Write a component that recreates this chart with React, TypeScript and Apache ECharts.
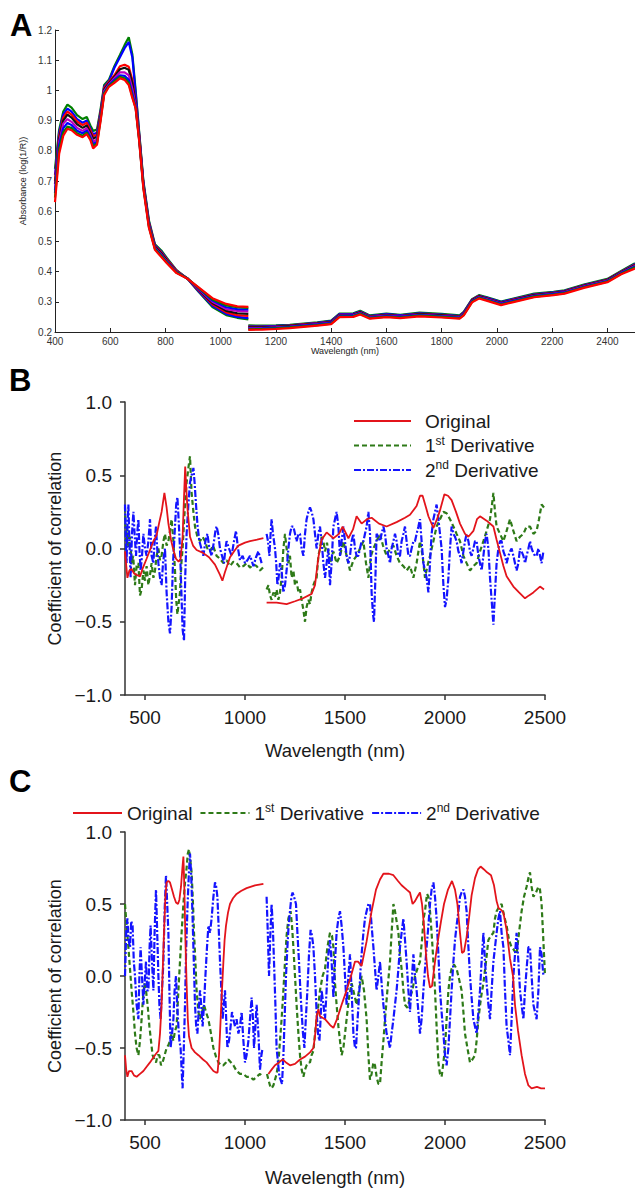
import React, { useEffect, useRef } from 'react';
import * as echarts from 'echarts';

// ---------- Panel A : absorbance spectra ----------
const visNm = [400,415,430,445,460,480,500,515,528,538,552,565,578,595,615,635,652,667,680,692,705,720,740,762,785,805,840,880,920,970,1020,1060,1100];
const nirNm = [1100,1150,1200,1250,1300,1350,1400,1430,1480,1505,1540,1600,1650,1720,1800,1865,1880,1910,1935,1965,2015,2060,2135,2205,2245,2315,2400,2450,2500];

const sample1Vis = [.74,.87,.93,.953,.943,.918,.905,.912,.884,.866,.87,.938,1.018,1.035,1.08,1.117,1.15,1.176,1.12,1.0,.86,.70,.57,.49,.47,.445,.405,.376,.333,.283,.256,.247,.242];
const sample2Vis = [.72,.86,.92,.94,.93,.905,.893,.9,.874,.855,.86,.93,1.012,1.03,1.075,1.11,1.14,1.16,1.11,.99,.855,.695,.565,.487,.466,.442,.403,.376,.335,.287,.26,.25,.246];
const sample3Vis = [.70,.85,.91,.93,.92,.897,.885,.893,.868,.848,.853,.925,1.008,1.028,1.05,1.08,1.085,1.078,1.035,.96,.85,.69,.562,.485,.463,.44,.402,.377,.338,.292,.265,.256,.253];
const sample4Vis = [.69,.84,.9,.92,.91,.888,.876,.884,.86,.84,.847,.92,1.003,1.024,1.045,1.07,1.075,1.068,1.025,.955,.845,.688,.558,.482,.46,.437,.40,.377,.34,.296,.27,.262,.26];
const sample5Vis = [.67,.83,.89,.905,.896,.876,.866,.875,.852,.83,.838,.913,.998,1.02,1.04,1.06,1.06,1.05,1.005,.95,.84,.685,.555,.479,.456,.434,.399,.377,.342,.3,.276,.27,.268];
const sample6Vis = [.66,.82,.875,.892,.885,.866,.858,.867,.845,.822,.83,.908,.993,1.017,1.035,1.05,1.048,1.035,.99,.945,.837,.682,.552,.477,.454,.432,.398,.377,.344,.304,.282,.276,.275];
const sample7Vis = [.645,.805,.862,.88,.875,.858,.85,.86,.84,.815,.825,.903,.99,1.014,1.03,1.045,1.04,1.025,.98,.942,.834,.679,.549,.475,.452,.43,.397,.377,.346,.308,.288,.282,.28];
const sample8Vis = [.63,.79,.85,.873,.868,.853,.845,.855,.836,.808,.82,.898,.985,1.012,1.025,1.04,1.035,1.018,.975,.94,.83,.675,.545,.472,.448,.428,.395,.376,.348,.312,.293,.285,.283];

const sample1Nir = [.222,.221,.222,.224,.228,.232,.238,.261,.262,.270,.255,.261,.257,.264,.260,.255,.267,.309,.322,.315,.301,.311,.327,.333,.338,.357,.376,.402,.428];
const sample2Nir = [.219,.219,.220,.222,.226,.230,.236,.259,.260,.268,.253,.259,.255,.262,.258,.253,.265,.307,.320,.313,.299,.309,.325,.331,.336,.355,.374,.400,.425];
const sample3Nir = [.217,.217,.218,.221,.225,.229,.234,.257,.258,.266,.251,.257,.253,.260,.256,.251,.263,.306,.319,.311,.297,.307,.323,.330,.335,.354,.373,.399,.423];
const sample4Nir = [.215,.215,.217,.220,.224,.228,.233,.256,.257,.265,.250,.256,.252,.259,.255,.250,.262,.305,.318,.310,.296,.306,.322,.329,.334,.353,.372,.398,.421];
const sample5Nir = [.213,.213,.215,.218,.222,.226,.231,.254,.255,.263,.249,.254,.251,.257,.253,.249,.260,.303,.316,.308,.294,.304,.320,.327,.332,.351,.370,.396,.419];
const sample6Nir = [.211,.212,.214,.217,.221,.225,.230,.253,.254,.262,.248,.253,.250,.256,.252,.248,.259,.302,.315,.307,.293,.303,.319,.326,.331,.350,.369,.395,.417];
const sample7Nir = [.209,.210,.212,.215,.219,.223,.228,.251,.252,.260,.246,.251,.248,.254,.250,.246,.257,.300,.313,.305,.291,.301,.317,.324,.329,.348,.367,.393,.414];
const sample8Nir = [.207,.208,.210,.213,.217,.221,.226,.249,.250,.258,.244,.249,.246,.252,.248,.244,.255,.298,.311,.303,.289,.299,.315,.322,.327,.346,.365,.391,.410];

const sampleColors = ['#008000','#0000ff','#ff0000','#111111','#bf00bf','#0000ff','#008000','#ff0000'];

const aXTicks = { min: 400, max: 2500, interval: 200 };
const aYTicks = { min: 0.2, max: 1.2, interval: 0.1 };

// ---------- Panel B : correlation (first variable) ----------
const bOriginal: (number | null)[][] = [[400,-0.02],[405,-0.1],[412,-0.2],[422,-0.15],[433,-0.14],[445,-0.17],[458,-0.18],[475,-0.19],[490,-0.13],[508,-0.07],[525,-0.01],[542,0.05],[558,0.09],[570,0.17],[583,0.25],[597,0.38],[608,0.28],[617,0.17],[630,0.06],[642,-0.01],[655,-0.07],[668,-0.09],[678,-0.07],[688,0.08],[695,0.35],[701,0.56],[706,0.42],[712,0.28],[725,0.08],[740,0.02],[758,-0.01],[790,-0.03],[820,-0.06],[850,-0.11],[875,-0.18],[887,-0.22],[900,-0.16],[925,-0.06],[950,-0.01],[967,0.02],[1000,0.04],[1025,0.05],[1060,0.06],[1092,0.07],[1100,null],
[1108,-0.37],[1158,-0.37],[1208,-0.38],[1250,-0.36],[1290,-0.34],[1333,-0.31],[1350,-0.25],[1367,-0.06],[1383,0.06],[1408,0.11],[1442,0.07],[1470,0.1],[1488,0.15],[1517,0.07],[1540,0.13],[1558,0.22],[1583,0.17],[1610,0.2],[1633,0.21],[1670,0.17],[1708,0.15],[1758,0.18],[1800,0.21],[1825,0.23],[1858,0.29],[1875,0.36],[1888,0.36],[1905,0.28],[1917,0.22],[1942,0.14],[1960,0.2],[1975,0.26],[1997,0.37],[2015,0.36],[2033,0.33],[2055,0.25],[2075,0.17],[2100,0.1],[2117,0.08],[2142,0.12],[2160,0.2],[2175,0.22],[2208,0.19],[2242,0.15],[2258,0.06],[2275,-0.03],[2292,-0.12],[2308,-0.19],[2342,-0.26],[2370,-0.3],[2400,-0.34],[2420,-0.32],[2442,-0.3],[2475,-0.26],[2495,-0.28]];

const bFirstDeriv: (number | null)[][] = [[400,0.28],[405,0.05],[410,0.15],[417,0.0],[425,0.08],[433,-0.1],[441,-0.05],[450,-0.25],[458,-0.12],[467,-0.1],[475,-0.32],[483,-0.28],[492,-0.15],[500,-0.22],[508,-0.12],[517,-0.25],[525,-0.18],[533,-0.1],[542,-0.2],[550,-0.15],[558,-0.05],[567,0.0],[575,-0.08],[583,-0.05],[592,0.05],[600,0.1],[608,0.02],[617,0.05],[625,0.12],[633,0.2],[642,0.05],[650,-0.15],[656,-0.35],[662,-0.45],[668,-0.38],[675,-0.3],[682,-0.1],[688,0.0],[694,0.15],[700,0.3],[708,0.45],[717,0.55],[725,0.63],[733,0.38],[742,0.25],[750,0.15],[762,0.08],[775,0.05],[788,0.08],[800,0.05],[812,0.0],[825,-0.02],[840,0.02],[858,-0.05],[875,-0.07],[892,-0.1],[908,-0.08],[925,-0.12],[942,-0.09],[958,-0.1],[975,-0.13],[992,-0.12],[1008,-0.1],[1025,-0.13],[1042,-0.11],[1058,-0.12],[1075,-0.15],[1090,-0.13],[1100,null],
[1108,-0.28],[1117,-0.25],[1125,-0.32],[1133,-0.35],[1142,-0.3],[1150,-0.33],[1158,-0.28],[1167,-0.35],[1175,-0.3],[1183,-0.2],[1192,0.0],[1200,0.1],[1208,0.0],[1217,-0.1],[1225,-0.05],[1233,-0.2],[1242,-0.15],[1250,-0.25],[1258,-0.22],[1267,-0.3],[1275,-0.28],[1283,-0.35],[1292,-0.42],[1300,-0.5],[1308,-0.4],[1317,-0.35],[1325,-0.38],[1333,-0.3],[1342,-0.25],[1350,-0.22],[1358,-0.2],[1367,-0.05],[1375,0.0],[1383,0.08],[1392,0.05],[1400,-0.02],[1410,0.04],[1425,-0.1],[1442,-0.02],[1458,-0.1],[1475,-0.05],[1492,0.05],[1508,-0.05],[1525,-0.15],[1542,-0.08],[1558,-0.05],[1575,0.0],[1592,0.05],[1605,-0.1],[1617,-0.2],[1630,-0.05],[1642,0.0],[1658,0.05],[1675,0.1],[1690,0.02],[1708,-0.05],[1725,0.0],[1742,0.02],[1758,-0.05],[1775,-0.1],[1792,-0.12],[1808,-0.15],[1825,-0.12],[1842,-0.2],[1858,-0.1],[1875,0.05],[1888,-0.05],[1900,-0.2],[1912,-0.12],[1925,-0.05],[1942,0.05],[1958,0.15],[1975,0.2],[1992,0.25],[2008,0.24],[2025,0.2],[2042,0.15],[2058,0.1],[2075,0.05],[2092,-0.05],[2108,-0.1],[2125,-0.15],[2142,-0.12],[2158,-0.1],[2175,-0.02],[2192,0.05],[2208,0.12],[2225,0.2],[2235,0.3],[2242,0.38],[2250,0.25],[2258,0.15],[2275,0.1],[2292,0.05],[2308,0.12],[2325,0.2],[2342,0.12],[2358,0.05],[2375,0.08],[2392,0.1],[2408,0.15],[2425,0.15],[2442,0.1],[2458,0.12],[2470,0.2],[2483,0.3],[2495,0.28]];

const bSecondDeriv: (number | null)[][] = [[400,0.3],[404,0.05],[408,-0.1],[412,0.15],[417,0.3],[422,0.05],[428,-0.2],[435,0.1],[442,0.25],[448,0.1],[455,-0.05],[461,0.1],[467,0.2],[472,0.0],[478,-0.15],[485,-0.05],[492,0.1],[500,0.0],[508,-0.05],[517,0.05],[525,0.2],[533,-0.05],[542,-0.1],[548,0.05],[555,0.15],[561,0.0],[567,-0.1],[575,-0.2],[583,-0.25],[590,-0.1],[600,0.0],[608,-0.3],[617,-0.5],[625,-0.58],[633,-0.4],[640,-0.1],[650,0.15],[656,0.3],[662,0.35],[668,0.2],[675,0.0],[682,-0.3],[688,-0.55],[695,-0.63],[701,-0.2],[708,0.1],[717,0.3],[725,0.45],[733,0.5],[742,0.55],[748,0.45],[755,0.3],[763,0.15],[772,0.05],[782,0.0],[792,-0.05],[802,0.05],[812,0.1],[822,0.0],[833,-0.05],[845,0.05],[852,0.12],[858,0.15],[866,0.1],[875,0.0],[885,-0.05],[895,-0.1],[902,0.0],[908,0.05],[920,0.0],[933,-0.05],[945,0.05],[955,0.12],[965,0.0],[975,-0.08],[988,-0.05],[1000,-0.1],[1012,-0.08],[1025,-0.05],[1033,-0.08],[1042,-0.12],[1055,-0.06],[1067,-0.02],[1075,-0.06],[1083,-0.1],[1100,null],
[1108,0.1],[1115,0.05],[1122,-0.05],[1128,0.1],[1133,0.2],[1140,0.1],[1150,0.0],[1156,-0.1],[1162,-0.25],[1168,-0.2],[1175,-0.1],[1183,-0.15],[1192,-0.3],[1200,-0.25],[1208,-0.15],[1217,0.0],[1225,0.1],[1233,0.15],[1242,0.15],[1250,0.1],[1258,0.05],[1267,0.1],[1275,0.1],[1283,0.0],[1292,-0.05],[1300,0.1],[1308,0.2],[1317,0.25],[1325,0.28],[1333,0.25],[1342,0.2],[1350,0.1],[1358,0.0],[1367,0.1],[1375,0.15],[1383,0.05],[1392,-0.1],[1400,-0.2],[1408,-0.1],[1417,0.0],[1425,-0.25],[1433,-0.1],[1442,0.15],[1450,0.2],[1458,0.25],[1467,0.15],[1475,-0.05],[1483,0.05],[1492,0.15],[1500,0.05],[1508,-0.05],[1517,-0.1],[1525,-0.05],[1533,0.05],[1542,0.1],[1550,0.0],[1558,-0.05],[1567,-0.05],[1575,0.0],[1583,0.05],[1592,0.05],[1600,0.1],[1608,0.15],[1617,0.25],[1625,0.1],[1633,-0.3],[1640,-0.45],[1645,-0.5],[1652,-0.2],[1658,0.1],[1667,0.08],[1675,0.05],[1683,0.1],[1692,0.15],[1700,0.1],[1708,0.0],[1717,-0.05],[1725,-0.1],[1733,0.0],[1742,0.05],[1750,0.1],[1758,0.05],[1767,-0.05],[1775,-0.05],[1783,0.05],[1792,0.1],[1800,0.15],[1808,0.05],[1817,-0.05],[1825,-0.05],[1833,0.0],[1842,0.05],[1850,0.05],[1858,0.1],[1867,0.15],[1875,0.2],[1883,0.05],[1892,-0.1],[1900,-0.15],[1908,-0.2],[1917,-0.3],[1925,-0.1],[1933,0.1],[1942,0.2],[1950,0.25],[1958,0.3],[1967,0.2],[1975,0.1],[1983,0.0],[1992,-0.25],[2000,-0.4],[2008,-0.35],[2017,-0.2],[2025,0.0],[2033,0.15],[2042,0.1],[2050,0.08],[2058,0.05],[2067,-0.02],[2075,-0.05],[2083,-0.1],[2092,-0.02],[2100,0.05],[2108,0.1],[2117,0.05],[2125,-0.02],[2133,-0.05],[2142,0.0],[2150,0.05],[2158,0.05],[2167,-0.05],[2175,-0.1],[2183,-0.15],[2192,-0.05],[2200,0.05],[2208,0.1],[2217,0.0],[2225,-0.2],[2233,-0.35],[2242,-0.52],[2250,-0.3],[2258,-0.1],[2267,0.0],[2275,0.05],[2283,0.05],[2292,-0.02],[2300,-0.05],[2308,-0.1],[2317,-0.05],[2325,-0.02],[2333,0.0],[2342,-0.05],[2350,-0.1],[2358,-0.15],[2367,-0.1],[2375,0.0],[2383,-0.02],[2392,-0.05],[2400,-0.1],[2408,-0.05],[2417,0.0],[2425,0.05],[2433,0.0],[2442,-0.03],[2450,-0.05],[2458,-0.05],[2467,0.0],[2475,-0.05],[2483,-0.1],[2492,-0.02]];

// ---------- Panel C : correlation (second variable) ----------
const cOriginal: (number | null)[][] = [[400,-0.55],[406,-0.65],[412,-0.7],[420,-0.66],[433,-0.66],[445,-0.69],[458,-0.7],[475,-0.68],[492,-0.66],[508,-0.63],[525,-0.6],[540,-0.57],[555,-0.54],[567,-0.52],[575,-0.4],[583,-0.2],[590,0.1],[595,0.3],[602,0.55],[608,0.65],[617,0.66],[625,0.65],[635,0.6],[645,0.55],[655,0.51],[665,0.5],[672,0.53],[680,0.62],[687,0.75],[692,0.83],[697,0.6],[702,0.25],[708,-0.05],[714,-0.3],[720,-0.42],[733,-0.5],[750,-0.53],[767,-0.55],[790,-0.58],[808,-0.6],[825,-0.63],[842,-0.66],[855,-0.67],[863,-0.67],[870,-0.55],[875,-0.4],[883,-0.15],[892,0.1],[898,0.25],[905,0.35],[915,0.44],[925,0.5],[940,0.54],[958,0.57],[980,0.59],[1008,0.61],[1050,0.63],[1092,0.64],[1100,null],
[1117,-0.68],[1133,-0.65],[1150,-0.62],[1170,-0.6],[1188,-0.58],[1205,-0.6],[1225,-0.62],[1250,-0.61],[1275,-0.58],[1300,-0.56],[1325,-0.53],[1342,-0.5],[1350,-0.42],[1358,-0.28],[1367,-0.23],[1375,-0.28],[1400,-0.3],[1425,-0.34],[1442,-0.36],[1460,-0.3],[1483,-0.2],[1508,-0.1],[1530,0.0],[1550,0.1],[1565,0.1],[1583,0.07],[1608,0.24],[1633,0.45],[1655,0.6],[1675,0.67],[1692,0.71],[1720,0.71],[1742,0.7],[1765,0.66],[1783,0.63],[1808,0.6],[1825,0.58],[1838,0.5],[1850,0.52],[1862,0.55],[1875,0.58],[1885,0.5],[1895,0.35],[1905,0.15],[1915,0.0],[1925,-0.08],[1935,-0.07],[1950,0.1],[1965,0.25],[1980,0.38],[1995,0.5],[2015,0.6],[2035,0.66],[2050,0.6],[2062,0.5],[2075,0.3],[2085,0.16],[2095,0.17],[2108,0.27],[2120,0.4],[2133,0.56],[2150,0.68],[2165,0.74],[2178,0.76],[2195,0.74],[2210,0.72],[2230,0.7],[2245,0.63],[2258,0.52],[2268,0.47],[2280,0.46],[2292,0.44],[2308,0.32],[2325,0.12],[2340,0.0],[2350,-0.2],[2365,-0.38],[2383,-0.55],[2400,-0.68],[2417,-0.76],[2433,-0.78],[2460,-0.77],[2480,-0.78],[2500,-0.78]];

const cFirstDeriv: (number | null)[][] = [[400,0.5],[408,0.35],[417,0.2],[425,0.05],[433,-0.1],[442,-0.25],[450,-0.4],[458,-0.5],[467,-0.55],[475,-0.45],[483,-0.3],[490,-0.15],[497,-0.05],[505,-0.1],[513,-0.2],[522,-0.35],[530,-0.45],[538,-0.55],[547,-0.58],[555,-0.6],[563,-0.55],[572,-0.55],[580,-0.62],[588,-0.6],[598,-0.55],[608,-0.5],[617,-0.48],[625,-0.45],[633,-0.4],[642,-0.45],[650,-0.38],[658,-0.35],[667,-0.1],[675,0.1],[683,0.3],[692,0.5],[700,0.65],[708,0.75],[714,0.85],[720,0.88],[727,0.8],[733,0.72],[740,0.5],[745,0.3],[752,0.1],[758,-0.1],[767,-0.25],[775,-0.3],[785,-0.25],[795,-0.2],[805,-0.25],[817,-0.3],[830,-0.4],[842,-0.5],[855,-0.56],[867,-0.6],[880,-0.62],[892,-0.62],[905,-0.6],[917,-0.58],[930,-0.6],[942,-0.62],[958,-0.66],[975,-0.68],[992,-0.68],[1008,-0.7],[1025,-0.7],[1042,-0.72],[1058,-0.7],[1075,-0.68],[1090,-0.7],[1100,null],
[1110,-0.68],[1117,-0.72],[1125,-0.76],[1133,-0.78],[1142,-0.76],[1150,-0.72],[1158,-0.68],[1167,-0.6],[1175,-0.45],[1183,-0.3],[1192,-0.1],[1200,0.1],[1208,0.28],[1217,0.4],[1228,0.45],[1235,0.35],[1242,0.2],[1250,0.0],[1258,-0.2],[1267,-0.4],[1275,-0.55],[1283,-0.65],[1292,-0.7],[1300,-0.65],[1308,-0.62],[1317,-0.6],[1325,-0.6],[1333,-0.55],[1342,-0.52],[1350,-0.4],[1358,-0.3],[1367,-0.2],[1375,-0.1],[1388,0.0],[1400,0.05],[1412,0.2],[1425,0.3],[1435,0.28],[1442,0.2],[1450,-0.05],[1458,-0.2],[1467,-0.35],[1475,-0.45],[1483,-0.55],[1492,-0.5],[1500,-0.4],[1508,-0.3],[1520,-0.15],[1533,-0.05],[1545,-0.12],[1558,-0.2],[1570,-0.1],[1583,0.0],[1595,-0.1],[1608,-0.3],[1617,-0.55],[1625,-0.72],[1633,-0.68],[1642,-0.6],[1650,-0.62],[1658,-0.7],[1667,-0.75],[1675,-0.75],[1683,-0.6],[1692,-0.45],[1700,-0.3],[1712,-0.1],[1725,0.1],[1733,0.3],[1742,0.5],[1750,0.45],[1758,0.38],[1767,0.3],[1775,0.15],[1783,0.05],[1792,-0.1],[1800,-0.2],[1812,-0.22],[1825,-0.15],[1837,-0.1],[1850,0.0],[1862,0.05],[1875,0.1],[1885,0.25],[1893,0.4],[1900,0.45],[1910,0.57],[1917,0.55],[1925,0.45],[1933,0.3],[1942,0.1],[1950,-0.1],[1958,-0.35],[1967,-0.6],[1975,-0.68],[1983,-0.7],[1992,-0.6],[2000,-0.5],[2008,-0.3],[2017,-0.1],[2025,0.0],[2033,0.05],[2045,0.08],[2058,0.05],[2070,-0.02],[2083,-0.1],[2092,-0.25],[2100,-0.4],[2112,-0.5],[2125,-0.6],[2137,-0.58],[2150,-0.55],[2158,-0.45],[2167,-0.3],[2180,-0.15],[2192,-0.05],[2205,0.1],[2217,0.25],[2230,0.28],[2242,0.3],[2250,0.4],[2258,0.45],[2270,0.48],[2283,0.5],[2295,0.42],[2308,0.35],[2320,0.25],[2333,0.2],[2345,0.18],[2358,0.15],[2370,0.3],[2383,0.45],[2395,0.55],[2408,0.62],[2417,0.68],[2425,0.72],[2433,0.62],[2442,0.55],[2455,0.58],[2467,0.62],[2475,0.6],[2483,0.5],[2490,0.3],[2500,0.0]];

const cSecondDeriv: (number | null)[][] = [[400,0.0],[406,0.3],[412,0.4],[418,0.25],[425,0.2],[431,0.38],[438,0.35],[444,0.1],[450,0.0],[458,-0.2],[467,-0.3],[472,0.0],[478,0.2],[485,0.0],[492,-0.2],[498,-0.05],[505,0.1],[511,-0.1],[517,-0.1],[523,0.2],[528,0.35],[535,0.1],[542,-0.1],[548,0.3],[555,0.6],[561,0.3],[567,0.0],[572,-0.2],[578,-0.3],[585,-0.1],[592,0.1],[598,0.45],[605,0.7],[611,0.5],[617,0.3],[622,-0.1],[628,-0.5],[635,-0.4],[642,-0.3],[648,-0.1],[655,0.0],[661,-0.2],[667,-0.35],[672,-0.45],[678,-0.5],[683,-0.65],[688,-0.78],[694,-0.5],[700,-0.2],[706,0.2],[713,0.5],[719,0.7],[725,0.85],[731,0.7],[738,0.4],[744,0.1],[750,-0.2],[756,-0.35],[762,-0.4],[768,-0.25],[775,-0.1],[781,-0.2],[788,-0.35],[795,-0.2],[802,0.0],[810,0.2],[817,0.35],[825,0.3],[833,0.4],[842,0.55],[850,0.65],[856,0.62],[862,0.55],[868,0.35],[875,0.1],[882,-0.1],[888,-0.3],[894,-0.2],[900,-0.1],[906,-0.3],[912,-0.5],[920,-0.45],[928,-0.35],[935,-0.25],[942,-0.3],[950,-0.35],[958,-0.3],[967,-0.4],[975,-0.35],[983,-0.25],[992,-0.45],[1000,-0.6],[1008,-0.55],[1017,-0.45],[1025,-0.3],[1033,-0.15],[1040,-0.3],[1045,-0.5],[1052,-0.35],[1058,-0.2],[1067,-0.4],[1075,-0.65],[1082,-0.55],[1088,-0.5],[1100,null],
[1108,0.55],[1114,0.3],[1120,0.0],[1127,0.3],[1133,0.5],[1139,0.35],[1145,0.1],[1152,-0.2],[1158,-0.5],[1165,-0.6],[1172,-0.7],[1178,-0.72],[1185,-0.75],[1192,-0.55],[1198,-0.3],[1205,0.0],[1212,0.2],[1218,0.35],[1225,0.45],[1232,0.55],[1238,0.58],[1245,0.55],[1255,0.5],[1262,0.3],[1270,0.1],[1277,-0.1],[1283,-0.25],[1290,-0.4],[1297,-0.5],[1304,-0.3],[1312,-0.1],[1320,0.15],[1328,0.32],[1335,0.28],[1342,0.2],[1350,0.0],[1358,-0.25],[1365,-0.4],[1372,-0.45],[1378,-0.3],[1383,-0.1],[1392,-0.2],[1400,-0.3],[1408,-0.1],[1417,0.15],[1425,0.25],[1433,0.1],[1442,-0.15],[1450,0.1],[1458,0.3],[1467,0.4],[1475,0.45],[1483,0.35],[1492,0.2],[1500,0.0],[1508,-0.2],[1517,0.0],[1525,0.15],[1533,-0.1],[1542,-0.4],[1550,-0.5],[1555,-0.5],[1563,-0.3],[1572,-0.1],[1580,0.1],[1592,0.3],[1600,0.4],[1608,0.45],[1617,0.5],[1625,0.5],[1633,0.35],[1642,0.2],[1650,0.05],[1658,-0.1],[1667,0.0],[1675,0.1],[1683,-0.05],[1692,-0.2],[1700,-0.3],[1708,-0.4],[1717,-0.45],[1725,-0.5],[1733,-0.4],[1742,-0.3],[1750,-0.2],[1758,-0.1],[1767,0.05],[1775,0.2],[1783,0.3],[1792,0.4],[1800,0.25],[1808,0.1],[1817,-0.1],[1825,-0.25],[1833,-0.05],[1842,0.15],[1850,0.0],[1858,-0.1],[1867,-0.25],[1875,-0.4],[1883,-0.3],[1892,-0.1],[1900,0.05],[1908,0.2],[1917,0.35],[1925,0.5],[1933,0.6],[1942,0.65],[1950,0.55],[1958,0.4],[1967,0.15],[1975,-0.1],[1983,-0.25],[1992,-0.4],[2000,-0.55],[2008,-0.62],[2017,-0.5],[2025,-0.3],[2033,-0.1],[2042,0.1],[2050,0.25],[2058,0.35],[2067,0.45],[2075,0.55],[2083,0.58],[2092,0.6],[2100,0.55],[2108,0.45],[2117,0.2],[2125,0.0],[2133,-0.15],[2142,-0.3],[2150,-0.35],[2158,-0.4],[2167,-0.25],[2175,-0.1],[2183,0.1],[2192,0.3],[2200,0.1],[2208,-0.05],[2217,-0.2],[2225,-0.3],[2233,-0.1],[2242,0.1],[2250,0.2],[2258,0.3],[2267,0.4],[2275,0.45],[2283,0.3],[2292,0.2],[2300,-0.1],[2308,-0.35],[2317,-0.45],[2325,-0.55],[2333,-0.3],[2342,0.0],[2350,0.15],[2358,0.3],[2367,0.1],[2375,-0.1],[2383,-0.2],[2392,-0.3],[2400,-0.1],[2408,0.05],[2417,0.2],[2425,0.2],[2433,0.0],[2442,-0.2],[2450,-0.25],[2458,-0.3],[2467,-0.1],[2475,0.2],[2483,0.15],[2492,0.0]];

const corrXTickValues = [500, 1000, 1500, 2000, 2500];
const corrYTicks = { min: -1, max: 1, interval: 0.5 };
const legendNames = ['Original', '1st Derivative', '2nd Derivative'];

const RED = '#e3141b';
const GREEN = '#2e7a18';
const BLUE = '#1414ff';
const FONT = 'Arial, "Liberation Sans", Helvetica, sans-serif';

function spectrum(vis: number[], nir: number[]) {
  const a: (number | null)[][] = visNm.map((x, i) => [x, vis[i]]);
  a.push([1100, null]);
  nirNm.forEach((x, i) => a.push([x, nir[i]]));
  return a;
}

const legendFormatter = (name: string) => {
  if (name === '1st Derivative') return '1{sup|st} Derivative';
  if (name === '2nd Derivative') return '2{sup|nd} Derivative';
  return name;
};
const legendText = {
  fontFamily: FONT,
  fontSize: 19,
  color: '#1a1a1a',
  lineHeight: 22,
  rich: { sup: { fontFamily: FONT, fontSize: 12, color: '#1a1a1a', verticalAlign: 'top' as const } },
};
const plainNum = (v: number) => String(v);

function corrXAxis(gridIndex: number, nameGap: number) {
  return {
    type: 'value' as const, gridIndex, min: 400, max: 2500,
    name: 'Wavelength (nm)', nameLocation: 'middle' as const, nameGap,
    nameTextStyle: { fontFamily: FONT, fontSize: 18.5, color: '#1a1a1a' },
    axisLine: { onZero: false, lineStyle: { color: '#333', width: 1.5 } },
    axisTick: { show: true, length: 5, inside: false, customValues: corrXTickValues, lineStyle: { color: '#333', width: 1.5 } },
    axisLabel: { customValues: corrXTickValues, formatter: plainNum, fontFamily: FONT, fontSize: 19, color: '#1a1a1a', margin: 13 },
    splitLine: { show: false },
  };
}
function corrYAxis(gridIndex: number) {
  return {
    type: 'value' as const, gridIndex, ...corrYTicks,
    name: 'Coefficient of correlation', nameLocation: 'middle' as const, nameGap: 55,
    nameTextStyle: { fontFamily: FONT, fontSize: 18, color: '#1a1a1a' },
    axisLine: { show: true, onZero: false, lineStyle: { color: '#333', width: 1.5 } },
    axisTick: { show: true, length: 5, inside: false, lineStyle: { color: '#333', width: 1.5 } },
    axisLabel: {
      fontFamily: FONT, fontSize: 19, color: '#1a1a1a', margin: 13,
      formatter: (v: number) => (v < 0 ? '\u2212' : '') + Math.abs(v).toFixed(1),
    },
    splitLine: { show: false },
  };
}
function corrSeries(idx: number, orig: any[], d1: any[], d2: any[]) {
  const base = { type: 'line' as const, xAxisIndex: idx, yAxisIndex: idx, symbol: 'none', showSymbol: false, connectNulls: false };
  return [
    { ...base, name: '1st Derivative', data: d1, itemStyle: { color: GREEN }, lineStyle: { color: GREEN, width: 2.2, type: [5, 3] } },
    { ...base, name: '2nd Derivative', data: d2, itemStyle: { color: BLUE }, lineStyle: { color: BLUE, width: 2.2, type: [7, 2, 2, 2] } },
    { ...base, name: 'Original', data: orig, itemStyle: { color: RED }, lineStyle: { color: RED, width: 1.8, type: 'solid' } },
  ];
}

export default function App() {
  const ref = useRef<HTMLDivElement>(null);
  useEffect(() => {
    if (!ref.current) return;
    const chart = echarts.init(ref.current, undefined, { renderer: 'svg' });
    const samples = [
      [sample1Vis, sample1Nir], [sample2Vis, sample2Nir], [sample3Vis, sample3Nir], [sample4Vis, sample4Nir],
      [sample5Vis, sample5Nir], [sample6Vis, sample6Nir], [sample7Vis, sample7Nir], [sample8Vis, sample8Nir],
    ];
    const aSeries = samples.map((s, i) => ({
      type: 'line' as const, name: 'Sample ' + (i + 1), xAxisIndex: 0, yAxisIndex: 0,
      data: spectrum(s[0], s[1]), symbol: 'none', showSymbol: false, connectNulls: false,
      lineStyle: { color: sampleColors[i], width: 2.2 }, itemStyle: { color: sampleColors[i] },
    }));
    chart.setOption({
      animation: false,
      backgroundColor: '#ffffff',
      grid: [
        { left: 55, top: 30, width: 580, height: 302 },
        { left: 125, top: 402, width: 420, height: 293 },
        { left: 125, top: 832, width: 420, height: 294 },
      ],
      xAxis: [
        {
          type: 'value', gridIndex: 0, ...aXTicks,
          name: 'Wavelength (nm)', nameLocation: 'middle', nameGap: 14,
          nameTextStyle: { fontFamily: FONT, fontSize: 9, color: '#222' },
          axisLine: { onZero: false, lineStyle: { color: '#222', width: 1 } },
          axisTick: { inside: true, length: 4, lineStyle: { color: '#222' } },
          axisLabel: { formatter: plainNum, fontFamily: FONT, fontSize: 10, color: '#333', margin: 4, showMaxLabel: false },
          splitLine: { show: false },
        },
        corrXAxis(1, 46),
        corrXAxis(2, 48),
      ],
      yAxis: [
        {
          type: 'value', gridIndex: 0, ...aYTicks,
          name: 'Absorbance (log(1/R))', nameLocation: 'middle', nameGap: 18,
          nameTextStyle: { fontFamily: FONT, fontSize: 9, color: '#222' },
          axisLine: { show: true, onZero: false, lineStyle: { color: '#222', width: 1 } },
          axisTick: { show: true, inside: true, length: 4, lineStyle: { color: '#222' } },
          axisLabel: { fontFamily: FONT, fontSize: 10, color: '#333', margin: 3 },
          splitLine: { show: false },
        },
        corrYAxis(1),
        corrYAxis(2),
      ],
      legend: [
        {
          data: legendNames, orient: 'vertical', left: 353, top: 410, padding: 0,
          itemWidth: 57, itemHeight: 12, itemGap: 2.5, selectedMode: false,
          itemStyle: { opacity: 0, borderWidth: 0 },
          formatter: legendFormatter, textStyle: { ...legendText, padding: [0, 0, 0, 9] },
        },
        {
          data: legendNames, orient: 'horizontal', left: 72, top: 802, padding: 0,
          itemWidth: 49, itemHeight: 12, itemGap: 7, selectedMode: false,
          itemStyle: { opacity: 0, borderWidth: 0 },
          formatter: legendFormatter, textStyle: legendText,
        },
      ],
      graphic: [
        { type: 'text', left: 10, top: 10, style: { text: 'A', font: 'bold 31px ' + FONT, fill: '#000' } },
        { type: 'text', left: 9, top: 365, style: { text: 'B', font: 'bold 31px ' + FONT, fill: '#000' } },
        { type: 'text', left: 9, top: 766, style: { text: 'C', font: 'bold 31px ' + FONT, fill: '#000' } },
      ],
      series: [
        ...aSeries,
        ...corrSeries(1, bOriginal, bFirstDeriv, bSecondDeriv),
        ...corrSeries(2, cOriginal, cFirstDeriv, cSecondDeriv),
      ],
    });
    return () => chart.dispose();
  }, []);
  return <div ref={ref} style={{ position: 'absolute', left: 0, top: 0, width: 635, height: 1188, background: '#fff' }} />;
}
